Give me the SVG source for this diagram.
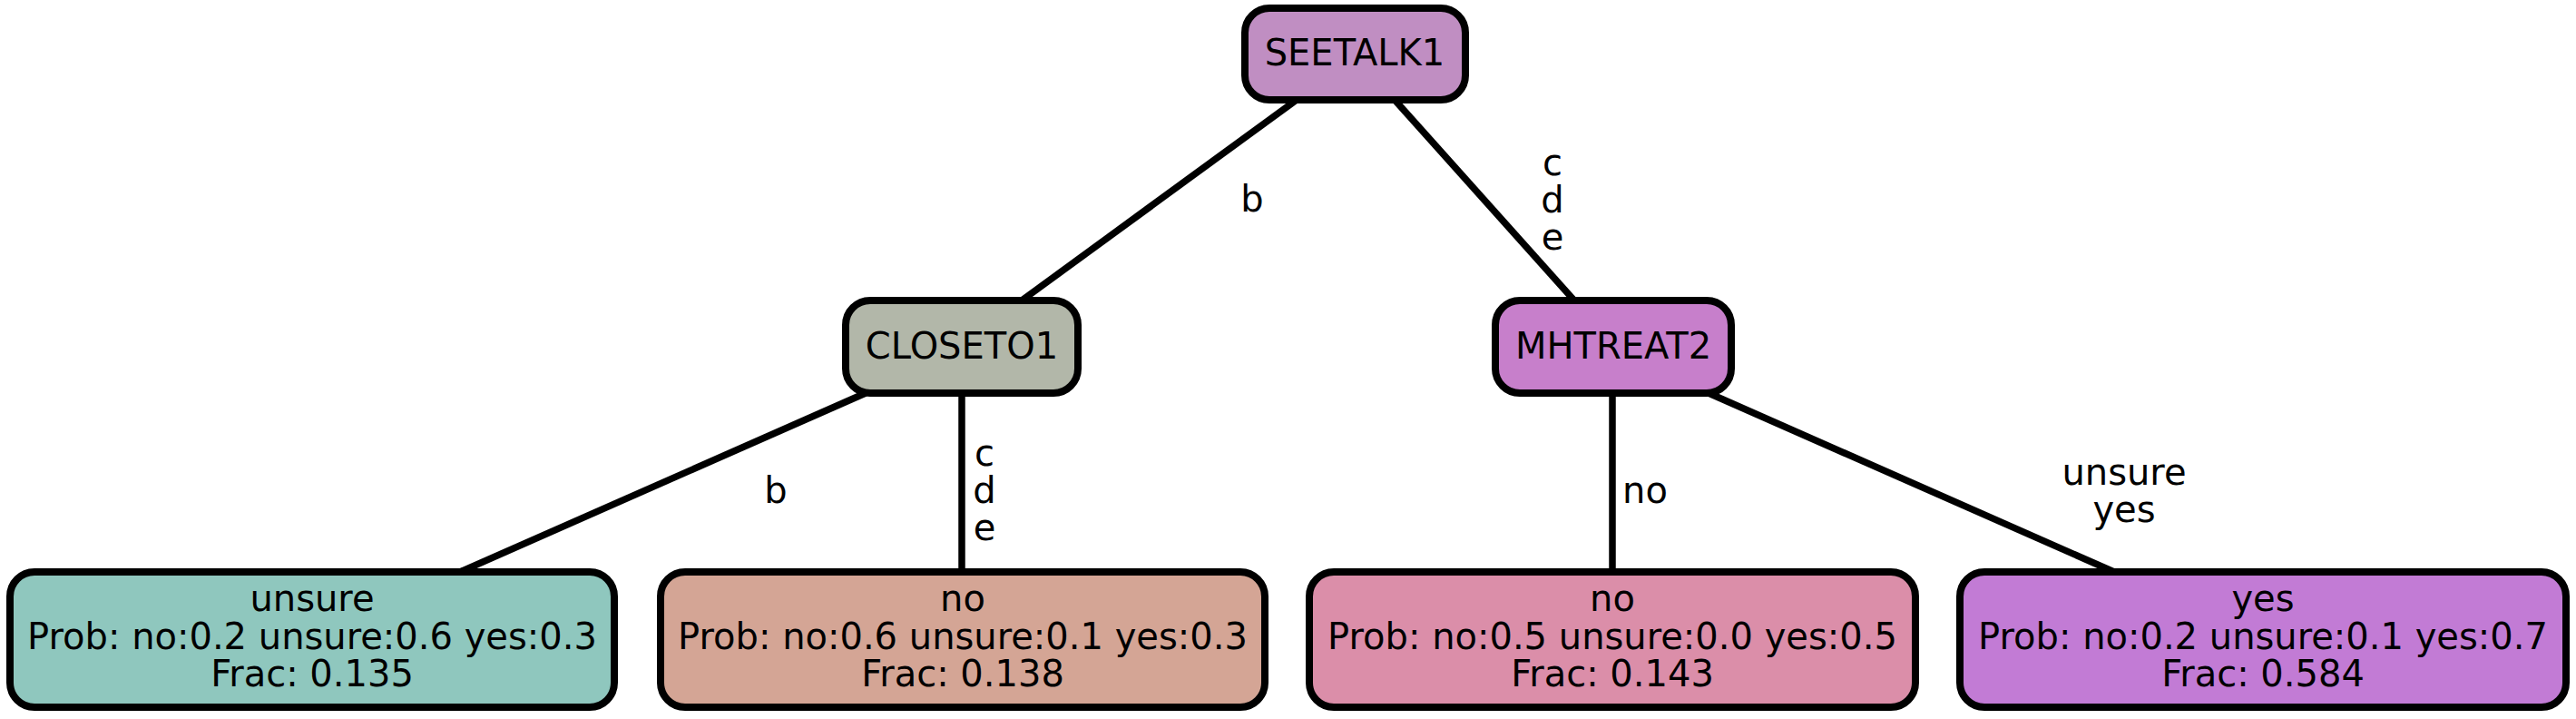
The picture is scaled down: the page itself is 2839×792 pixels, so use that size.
<svg xmlns="http://www.w3.org/2000/svg" width="2839" height="792" viewBox="0 0 2839 792">
<style>
.n{stroke:#000;stroke-width:8}
.t{font-family:"DejaVu Sans",sans-serif;font-size:40px;fill:#000;text-anchor:middle}
.e{stroke:#000;stroke-width:7.5;fill:none}
</style>
<rect width="2839" height="792" fill="#fff"/>
<g id="connectors">
<line class="e" x1="1429" y1="110" x2="1126" y2="331"/>
<line class="e" x1="1537" y1="110" x2="1735" y2="331"/>
<line class="e" x1="954" y1="433" x2="507" y2="630"/>
<line class="e" x1="1060" y1="433" x2="1060" y2="630"/>
<line class="e" x1="1777" y1="433" x2="1777" y2="630"/>
<line class="e" x1="1883" y1="433" x2="2330" y2="630"/>
<text class="t" x="1380" y="233">b</text>
<text class="t" x="1711" y="193">c</text>
<text class="t" x="1711" y="234">d</text>
<text class="t" x="1711" y="275">e</text>
<text class="t" x="855" y="554">b</text>
<text class="t" x="1085" y="513">c</text>
<text class="t" x="1085" y="554">d</text>
<text class="t" x="1085" y="595">e</text>
<text class="t" x="1813" y="554">no</text>
<text class="t" x="2341" y="534">unsure</text>
<text class="t" x="2341" y="575">yes</text>
</g>
<g id="SEETALK1">
<rect class="n" x="1372" y="9" width="243" height="101" rx="27" fill="#c08ec2"/>
<text class="t" x="1493" y="72">SEETALK1</text>
</g>
<g id="CLOSETO1">
<rect class="n" x="932" y="331" width="256" height="102" rx="27" fill="#b2b7a9"/>
<text class="t" x="1060" y="395">CLOSETO1</text>
</g>
<g id="MHTREAT2">
<rect class="n" x="1648" y="331" width="260" height="102" rx="27" fill="#c77fcb"/>
<text class="t" x="1778" y="395">MHTREAT2</text>
</g>
<g id="leaf_unsure">
<rect class="n" x="11" y="630" width="666" height="149" rx="27" fill="#8fc7be"/>
<text class="t" x="344" y="673">unsure</text>
<text class="t" x="344" y="715">Prob: no:0.2 unsure:0.6 yes:0.3</text>
<text class="t" x="344" y="756">Frac: 0.135</text>
</g>
<g id="leaf_no1">
<rect class="n" x="728" y="630" width="666" height="149" rx="27" fill="#d4a595"/>
<text class="t" x="1061" y="673">no</text>
<text class="t" x="1061" y="715">Prob: no:0.6 unsure:0.1 yes:0.3</text>
<text class="t" x="1061" y="756">Frac: 0.138</text>
</g>
<g id="leaf_no2">
<rect class="n" x="1443" y="630" width="668" height="149" rx="27" fill="#db8ea9"/>
<text class="t" x="1777" y="673">no</text>
<text class="t" x="1777" y="715">Prob: no:0.5 unsure:0.0 yes:0.5</text>
<text class="t" x="1777" y="756">Frac: 0.143</text>
</g>
<g id="leaf_yes">
<rect class="n" x="2160" y="630" width="668" height="149" rx="27" fill="#c27bd5"/>
<text class="t" x="2494" y="673">yes</text>
<text class="t" x="2494" y="715">Prob: no:0.2 unsure:0.1 yes:0.7</text>
<text class="t" x="2494" y="756">Frac: 0.584</text>
</g>
</svg>
